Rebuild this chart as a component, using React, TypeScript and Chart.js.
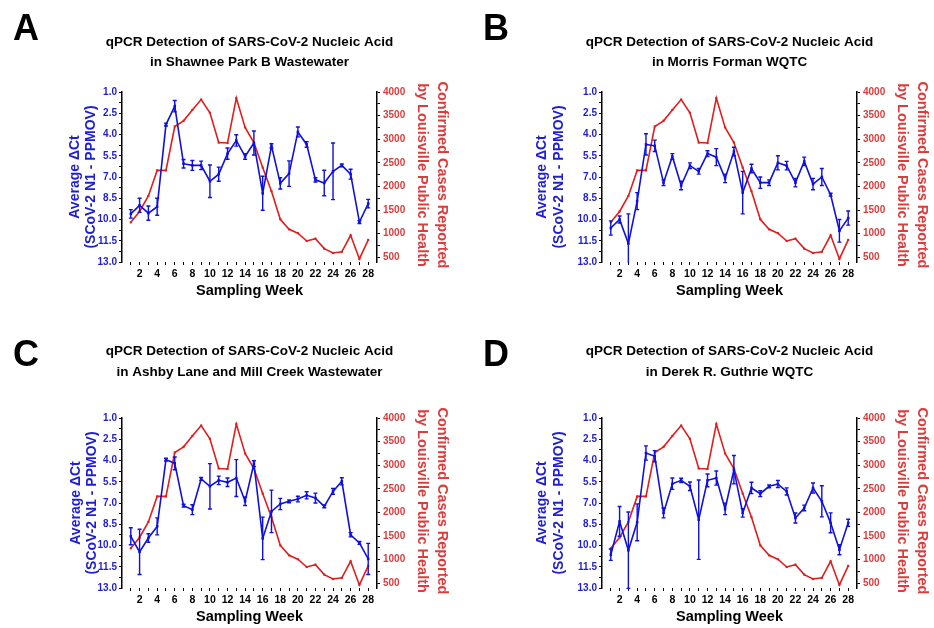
import React, { useEffect, useRef } from "react";
import { Chart, registerables } from "chart.js";

Chart.register(...registerables);

// ---------------- data ----------------
const weeks = [1, 2, 3, 4, 5, 6, 7, 8, 9, 10, 11, 12, 13, 14, 15, 16, 17, 18, 19, 20, 21, 22, 23, 24, 25, 26, 27, 28];

const cases = [1240, 1470, 1800, 2340, 2340, 3270, 3390, 3620, 3840, 3560, 2930, 2920, 3870, 3250, 2930, 2400, 1900, 1305, 1092, 1010, 845, 895, 683, 591, 615, 966, 465, 868];

const ctA = [9.6, 9.0, 9.55, 9.1, 3.3, 2.0, 6.06, 6.18, 6.18, 7.3, 6.8, 5.35, 4.42, 5.55, 4.6, 8.15, 4.8, 7.45, 6.76, 3.82, 4.7, 7.2, 7.42, 6.6, 6.18, 6.8, 10.18, 8.88];
const errA = [0.3, 0.5, 0.5, 0.6, 0.1, 0.4, 0.3, 0.35, 0.3, 1.15, 0.5, 0.4, 0.4, 0.2, 0.85, 1.2, 0.15, 0.4, 0.9, 0.35, 0.2, 0.15, 0.9, 2.0, 0.1, 0.35, 0.1, 0.3];

const ctB = [10.6, 10.0, 11.7, 8.7, 4.7, 4.8, 7.4, 5.55, 7.6, 6.2, 6.6, 5.35, 5.6, 7.1, 5.2, 8.1, 6.4, 7.4, 7.4, 6.0, 6.2, 7.4, 5.9, 7.5, 7.0, 8.25, 10.8, 9.9];
const errB = [0.5, 0.25, 2.1, 0.6, 0.75, 0.4, 0.2, 0.2, 0.3, 0.2, 0.2, 0.2, 0.6, 0.3, 0.3, 1.5, 0.3, 0.4, 0.2, 0.5, 0.3, 0.3, 0.3, 0.4, 0.6, 0.1, 0.8, 0.5];

const ctC = [9.35, 10.45, 9.47, 8.65, 3.94, 4.2, 7.19, 7.47, 5.3, 5.82, 5.4, 5.54, 5.24, 6.88, 4.22, 9.5, 7.59, 7.07, 6.88, 6.72, 6.46, 6.65, 7.24, 6.18, 5.47, 9.24, 9.82, 10.95];
const errC = [0.6, 1.6, 0.3, 0.6, 0.1, 0.45, 0.1, 0.35, 0.1, 1.6, 0.3, 0.3, 1.3, 0.3, 0.2, 1.5, 1.5, 0.4, 0.1, 0.2, 0.25, 0.35, 0.1, 0.2, 0.25, 0.15, 0.1, 1.1];

const ctD = [10.65, 8.3, 10.34, 8.36, 3.47, 3.7, 7.7, 5.64, 5.4, 5.82, 8.18, 5.4, 5.24, 7.42, 4.65, 7.7, 5.94, 6.34, 5.82, 5.66, 6.18, 8.06, 7.35, 5.94, 6.88, 8.4, 10.3, 8.4];
const errD = [0.4, 1.05, 2.7, 1.3, 0.5, 0.4, 0.35, 0.4, 0.15, 0.3, 2.8, 0.45, 0.5, 0.4, 1.0, 0.3, 0.4, 0.2, 0.1, 0.25, 0.25, 0.35, 0.2, 0.35, 1.1, 0.7, 0.35, 0.25];

const leftTickLabels = [1.0, 2.5, 4.0, 5.5, 7.0, 8.5, 10.0, 11.5, 13.0];
const rightTickLabels = [500, 1000, 1500, 2000, 2500, 3000, 3500, 4000];
const xTickLabels = [2, 4, 6, 8, 10, 12, 14, 16, 18, 20, 22, 24, 26, 28];

const titleLine1 = "qPCR Detection of SARS-CoV-2 Nucleic Acid";
const leftTitle = ["Average \u0394Ct", "(SCoV-2 N1 - PPMOV)"];
const rightTitle = ["Confirmed Cases Reported", "by Louisville Public Health"];
const xTitle = "Sampling Week";

// ---------------- styling / layout ----------------
const FONT = '"Liberation Sans", Arial, Helvetica, sans-serif';
const BLUE = "#1010dc";
const BLUE_TXT = "#1e1ed2";
const RED = "#e01e1e";
const RED_TXT = "#dc3c3c";
const W = 467;
const H = 314;

type PanelCfg = {
  letter: string;
  site: string;
  ct: number[];
  err: number[];
  col: number;
  row: number;
  plot: { l: number; r: number; t: number; b: number };
  letterXY: [number, number];
  titleY: [number, number];
  leftTitleX: [number, number];
};

const panels: PanelCfg[] = [
  { letter: "A", site: "in Shawnee Park B Wastewater", ct: ctA, err: errA, col: 0, row: 0,
    plot: { l: 122, r: 377, t: 92, b: 262 }, letterXY: [13, 40], titleY: [42, 62], leftTitleX: [75, 91] },
  { letter: "B", site: "in Morris Forman WQTC", ct: ctB, err: errB, col: 1, row: 0,
    plot: { l: 602, r: 857, t: 92, b: 262 }, letterXY: [483, 40], titleY: [42, 62], leftTitleX: [542, 559] },
  { letter: "C", site: "in Ashby Lane and Mill Creek Wastewater", ct: ctC, err: errC, col: 0, row: 1,
    plot: { l: 122, r: 377, t: 418, b: 588 }, letterXY: [13, 366], titleY: [351, 372], leftTitleX: [76, 92] },
  { letter: "D", site: "in Derek R. Guthrie WQTC", ct: ctD, err: errD, col: 1, row: 1,
    plot: { l: 602, r: 857, t: 418, b: 588 }, letterXY: [483, 366], titleY: [351, 372], leftTitleX: [542, 559] },
];

function withMinors(labels: number[]): number[] {
  const out: number[] = [];
  for (let i = 0; i < labels.length; i++) {
    out.push(labels[i]);
    if (i < labels.length - 1) out.push((labels[i] + labels[i + 1]) / 2);
  }
  return out;
}
const isIn = (arr: number[], v: number) => arr.some((a) => Math.abs(a - v) < 1e-6);

function Panel({ cfg }: { cfg: PanelCfg }) {
  const ref = useRef<HTMLCanvasElement>(null);
  useEffect(() => {
    const ox = cfg.col * W;
    const oy = cfg.row * H;
    const p = { l: cfg.plot.l - ox, r: cfg.plot.r - ox, t: cfg.plot.t - oy, b: cfg.plot.b - oy };
    const cx = (p.l + p.r) / 2;
    const cy = (p.t + p.b) / 2;

    const errorBars = {
      id: "errorBars",
      afterDatasetsDraw(chart: any) {
        const ctx = chart.ctx;
        const xs = chart.scales.x;
        const ys = chart.scales.y;
        const a = chart.chartArea;
        ctx.save();
        ctx.beginPath();
        ctx.rect(a.left, a.top - 1, a.right - a.left, a.bottom - a.top + 2);
        ctx.clip();
        ctx.strokeStyle = BLUE;
        ctx.lineWidth = 1.4;
        for (let i = 0; i < weeks.length; i++) {
          const x = xs.getPixelForValue(weeks[i]);
          const y1 = ys.getPixelForValue(cfg.ct[i] - cfg.err[i]);
          const y2 = ys.getPixelForValue(cfg.ct[i] + cfg.err[i]);
          ctx.beginPath();
          ctx.moveTo(x, y1);
          ctx.lineTo(x, y2);
          ctx.moveTo(x - 2, y1);
          ctx.lineTo(x + 2, y1);
          ctx.moveTo(x - 2, y2);
          ctx.lineTo(x + 2, y2);
          ctx.stroke();
        }
        ctx.restore();
      },
    };

    const decor = {
      id: "decor",
      afterDraw(chart: any) {
        const ctx = chart.ctx;
        ctx.save();
        ctx.fillStyle = "#000";
        ctx.textAlign = "left";
        ctx.textBaseline = "alphabetic";
        ctx.font = `bold 36px ${FONT}`;
        ctx.fillText(cfg.letter, cfg.letterXY[0] - ox, cfg.letterXY[1] - oy);
        ctx.textAlign = "center";
        ctx.textBaseline = "middle";
        ctx.font = `bold 13.5px ${FONT}`;
        ctx.fillText(titleLine1, cx, cfg.titleY[0] - oy);
        ctx.fillText(cfg.site, cx, cfg.titleY[1] - oy);
        ctx.font = `bold 14.5px ${FONT}`;
        ctx.fillText(xTitle, cx, p.b + 29);
        ctx.fillStyle = BLUE_TXT;
        ctx.font = `bold 14px ${FONT}`;
        for (let k = 0; k < 2; k++) {
          ctx.save();
          ctx.translate(cfg.leftTitleX[k] - ox, cy);
          ctx.rotate(-Math.PI / 2);
          ctx.fillText(leftTitle[k], 0, 0);
          ctx.restore();
        }
        ctx.fillStyle = RED_TXT;
        ctx.font = `bold 14.5px ${FONT}`;
        const rx = [p.r + 65, p.r + 45];
        for (let k = 0; k < 2; k++) {
          ctx.save();
          ctx.translate(rx[k], cy - 2);
          ctx.rotate(Math.PI / 2);
          ctx.fillText(rightTitle[k], 0, 0);
          ctx.restore();
        }
        ctx.restore();
      },
    };

    const tickFont = { family: FONT, size: 10, weight: "bold" as const };

    const chart = new Chart(ref.current as HTMLCanvasElement, {
      type: "line",
      data: {
        datasets: [
          {
            label: "Average \u0394Ct",
            data: weeks.map((w, i) => ({ x: w, y: cfg.ct[i] })),
            yAxisID: "y",
            borderColor: BLUE,
            backgroundColor: BLUE,
            borderWidth: 1.6,
            pointStyle: "rect",
            pointRadius: 1.8,
            pointBorderWidth: 0,
            tension: 0,
          },
          {
            label: "Confirmed Cases",
            data: weeks.map((w, i) => ({ x: w, y: cases[i] })),
            yAxisID: "y1",
            borderColor: RED,
            backgroundColor: RED,
            borderWidth: 1.6,
            pointStyle: "rect",
            pointRadius: 1.5,
            pointBorderWidth: 0,
            tension: 0,
          },
        ],
      },
      options: {
        responsive: false,
        animation: false,
        events: [],
        layout: { padding: { top: p.t, left: 0, right: 0, bottom: 0 } },
        plugins: { legend: { display: false }, tooltip: { enabled: false }, title: { display: false } },
        scales: {
          x: {
            type: "linear",
            min: 0,
            max: 29,
            afterBuildTicks: (s: any) => {
              s.ticks = weeks.map((v) => ({ value: v }));
            },
            afterFit: (s: any) => {
              s.height = H - p.b;
            },
            ticks: {
              autoSkip: false,
              maxRotation: 0,
              padding: 3,
              color: "#000",
              font: { family: FONT, size: 10.5, weight: "bold" },
              callback: (v: any) => (isIn(xTickLabels, Number(v)) ? String(v) : ""),
            },
            grid: { drawOnChartArea: false, drawTicks: true, tickLength: 3, color: "#000", lineWidth: 1 },
            border: { display: false },
          },
          y: {
            type: "linear",
            position: "left",
            reverse: true,
            min: 1,
            max: 13,
            afterBuildTicks: (s: any) => {
              s.ticks = withMinors(leftTickLabels).map((v) => ({ value: v }));
            },
            afterFit: (s: any) => {
              s.width = p.l;
            },
            ticks: {
              autoSkip: false,
              padding: 2,
              color: BLUE_TXT,
              font: tickFont,
              callback: (v: any) => (isIn(leftTickLabels, Number(v)) ? Number(v).toFixed(1) : ""),
            },
            grid: { drawOnChartArea: false, drawTicks: true, tickLength: 3, color: "#000", lineWidth: 1 },
            border: { display: true, color: "#000", width: 1.5 },
          },
          y1: {
            type: "linear",
            position: "right",
            min: 400,
            max: 4000,
            afterBuildTicks: (s: any) => {
              s.ticks = withMinors(rightTickLabels).map((v) => ({ value: v }));
            },
            afterFit: (s: any) => {
              s.width = W - p.r;
            },
            ticks: {
              autoSkip: false,
              padding: 3,
              color: RED_TXT,
              font: tickFont,
              callback: (v: any) => (isIn(rightTickLabels, Number(v)) ? String(v) : ""),
            },
            grid: { drawOnChartArea: false, drawTicks: true, tickLength: 3, color: "#000", lineWidth: 1 },
            border: { display: true, color: "#000", width: 1.5 },
          },
        },
      } as any,
      plugins: [errorBars, decor],
    });
    return () => chart.destroy();
  }, [cfg]);

  return (
    <canvas
      ref={ref}
      width={W}
      height={H}
      style={{ position: "absolute", left: cfg.col * W, top: cfg.row * H, width: W, height: H }}
    />
  );
}

export default function App() {
  return (
    <div style={{ position: "fixed", left: 0, top: 0, width: 934, height: 628, background: "#fff", overflow: "hidden" }}>
      {panels.map((c) => (
        <Panel key={c.letter} cfg={c} />
      ))}
    </div>
  );
}
